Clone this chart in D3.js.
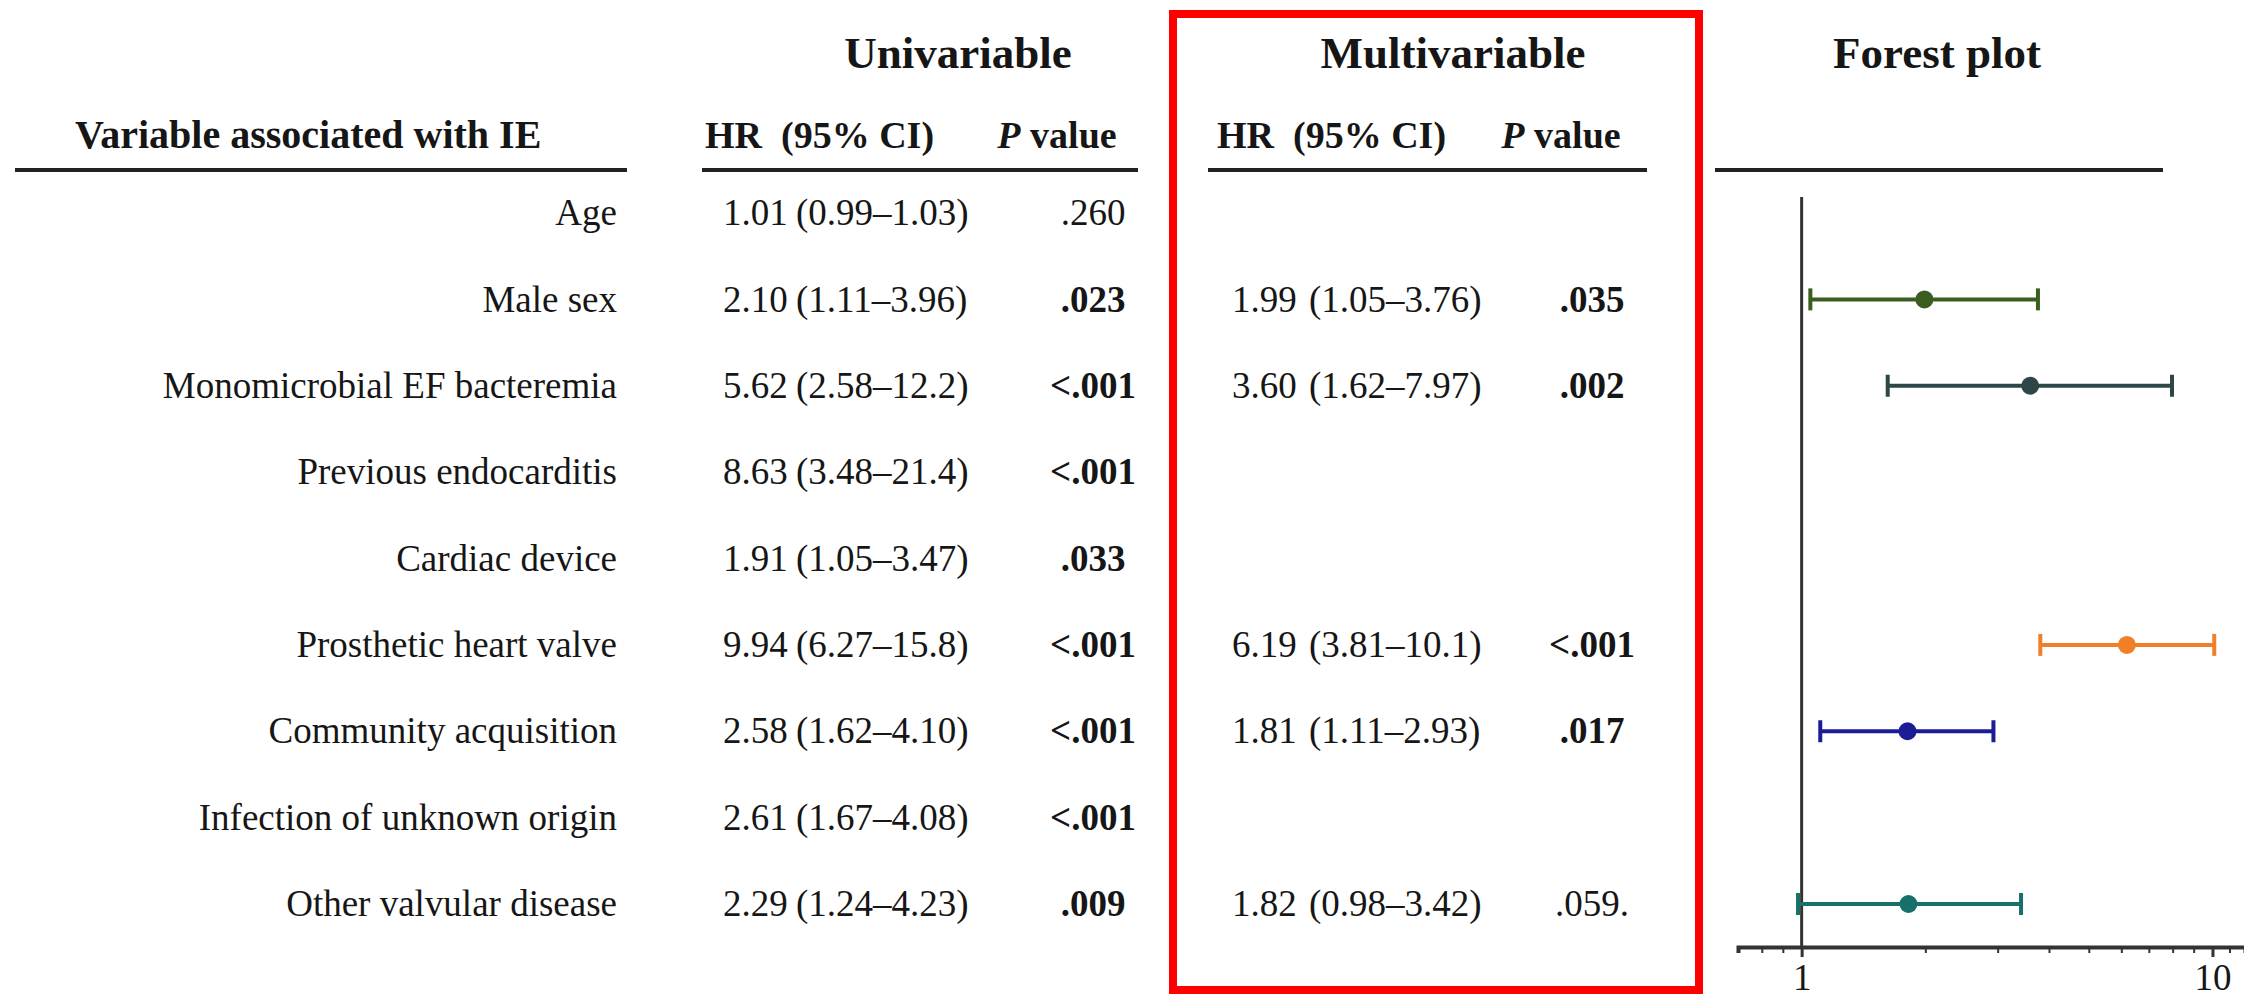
<!DOCTYPE html>
<html>
<head>
<meta charset="utf-8">
<script src="https://cdn.jsdelivr.net/npm/d3@7"></script>
<style>
  body { margin: 0; background: #fff; }
  text { font-family: "Liberation Serif", "Times New Roman", serif; fill: #161616; }
</style>
</head>
<body>
<div id="chart"></div>
<script>
/* Forest plot table: risk factors for IE */

const variables = ["Age", "Male sex", "Monomicrobial EF bacteremia", "Previous endocarditis",
                   "Cardiac device", "Prosthetic heart valve", "Community acquisition",
                   "Infection of unknown origin", "Other valvular disease"];

const uniHR = [1.01, 2.10, 5.62, 8.63, 1.91, 9.94, 2.58, 2.61, 2.29];
const uniLo = [0.99, 1.11, 2.58, 3.48, 1.05, 6.27, 1.62, 1.67, 1.24];
const uniHi = [1.03, 3.96, 12.2, 21.4, 3.47, 15.8, 4.10, 4.08, 4.23];
const uniP  = [".260", ".023", "<.001", "<.001", ".033", "<.001", "<.001", "<.001", ".009"];

const multiHR = [null, 1.99, 3.60, null, null, 6.19, 1.81, null, 1.82];
const multiLo = [null, 1.05, 1.62, null, null, 3.81, 1.11, null, 0.98];
const multiHi = [null, 3.76, 7.97, null, null, 10.1, 2.93, null, 3.42];
const multiP  = ["", ".035", ".002", "", "", "<.001", ".017", "", ".059."];

const barColors = ["#3b5d20", "#2d4749", "#f07f28", "#1c1c94", "#18706a"];

const minorTicks = [0.7, 0.8, 0.9, 2, 3, 4, 5, 6, 7, 8, 9, 11, 12];
const majorTicks = [1, 10];

const width = 2244,
      height = 997;

const svg = d3.select("#chart")
    .append("svg")
    .attr("width", width)
    .attr("height", height)
    .attr("viewBox", [0, 0, width, height]);

svg.append("rect").attr("width", width).attr("height", height).attr("fill", "#fff");

const y = d3.scalePoint()
    .domain(variables)
    .range([213, 904]);

const x = d3.scaleLog()
    .domain([0.7, 12])
    .range([1738, 2245]);

const fmt = v => v < 10 ? v.toFixed(2) : v.toFixed(1);
const isSig = p => parseFloat(p.replace("<", "")) < 0.05;

// column titles
const titles = [["Univariable", 958], ["Multivariable", 1453], ["Forest plot", 1937]];
svg.selectAll(".title")
    .data(titles)
    .join("text")
    .attr("class", "title")
    .attr("x", d => d[0] === "" ? 0 : d[1])
    .attr("y", 68)
    .attr("text-anchor", "middle")
    .attr("font-weight", "bold")
    .attr("font-size", 45)
    .text(d => d[0]);

// sub headers
svg.append("text")
    .attr("x", 75).attr("y", 148)
    .attr("font-weight", "bold").attr("font-size", 40)
    .text("Variable associated with IE");

for (const [hx, px] of [[705, 1057], [1217, 1561]]) {
    svg.append("text")
        .attr("x", hx).attr("y", 148)
        .attr("font-weight", "bold").attr("font-size", 38)
        .attr("xml:space", "preserve")
        .style("white-space", "pre")
        .text("HR  (95% CI)");
    const pv = svg.append("text")
        .attr("x", px).attr("y", 148)
        .attr("text-anchor", "middle")
        .attr("font-weight", "bold").attr("font-size", 38);
    pv.append("tspan").attr("font-style", "italic").text("P");
    pv.append("tspan").text(" value");
}

// header rules
const rules = [[15, 627], [702, 1138], [1208, 1647], [1715, 2163]];
svg.selectAll(".rule")
    .data(rules)
    .join("line")
    .attr("class", "rule")
    .attr("x1", d => d[0]).attr("x2", d => d[1])
    .attr("y1", 170).attr("y2", 170)
    .attr("stroke", "#222")
    .attr("stroke-width", 4);

// table rows
const rows = svg.append("g")
    .attr("font-size", 37);

rows.selectAll(".label")
    .data(variables)
    .join("text")
    .attr("x", 617)
    .attr("y", d => y(d))
    .attr("dy", "0.33em")
    .attr("text-anchor", "end")
    .text(d => d);

function tableColumn(hr, lo, hi, p, hrX, ciX, pX) {
    const idx = variables.map((v, i) => i).filter(i => hr[i] != null);
    rows.selectAll(null)
        .data(idx)
        .join("text")
        .attr("x", hrX)
        .attr("y", i => y(variables[i]))
        .attr("dy", "0.33em")
        .text(i => fmt(hr[i]));
    rows.selectAll(null)
        .data(idx)
        .join("text")
        .attr("x", ciX)
        .attr("y", i => y(variables[i]))
        .attr("dy", "0.33em")
        .text(i => `(${fmt(lo[i])}\u2013${fmt(hi[i])})`);
    rows.selectAll(null)
        .data(idx)
        .join("text")
        .attr("x", pX)
        .attr("y", i => y(variables[i]))
        .attr("dy", "0.33em")
        .attr("text-anchor", "middle")
        .attr("font-weight", i => isSig(p[i]) ? "bold" : "normal")
        .text(i => p[i]);
}

tableColumn(uniHR, uniLo, uniHi, uniP, 723, 796, 1093);
tableColumn(multiHR, multiLo, multiHi, multiP, 1232, 1309, 1592);

// red box around multivariable
svg.append("rect")
    .attr("x", 1173).attr("y", 14)
    .attr("width", 526).attr("height", 976)
    .attr("fill", "none")
    .attr("stroke", "#ff0000")
    .attr("stroke-width", 8);

// forest plot
const axisY = 947;

const minorAxis = svg.append("g")
    .attr("transform", `translate(0,${axisY})`)
    .call(d3.axisBottom(x).tickValues(minorTicks).tickSize(6).tickFormat(""));
minorAxis.select(".domain").attr("stroke", "#333").attr("stroke-width", 4);
minorAxis.selectAll(".tick line").attr("stroke", "#333").attr("stroke-width", 2);

const majorAxis = svg.append("g")
    .attr("transform", `translate(0,${axisY})`)
    .call(d3.axisBottom(x).tickValues(majorTicks).tickSize(10).tickPadding(7).tickFormat(d3.format("d")));
majorAxis.select(".domain").remove();
majorAxis.selectAll(".tick line").attr("stroke", "#333").attr("stroke-width", 3);
majorAxis.selectAll(".tick text")
    .attr("font-family", "Liberation Serif, Times New Roman, serif")
    .attr("font-size", 37)
    .attr("fill", "#161616");

svg.append("line")
    .attr("x1", x(1)).attr("x2", x(1))
    .attr("y1", 197).attr("y2", axisY)
    .attr("stroke", "#333")
    .attr("stroke-width", 3);

const forestIdx = variables.map((v, i) => i).filter(i => multiHR[i] != null);

const bars = svg.append("g")
    .selectAll("g")
    .data(forestIdx)
    .join("g")
    .attr("stroke", (i, k) => barColors[k])
    .attr("fill", (i, k) => barColors[k]);

bars.append("line")
    .attr("x1", i => x(multiLo[i])).attr("x2", i => x(multiHi[i]))
    .attr("y1", i => y(variables[i])).attr("y2", i => y(variables[i]))
    .attr("stroke-width", 4);

bars.append("line")
    .attr("x1", i => x(multiLo[i])).attr("x2", i => x(multiLo[i]))
    .attr("y1", i => y(variables[i]) - 11).attr("y2", i => y(variables[i]) + 11)
    .attr("stroke-width", 4);

bars.append("line")
    .attr("x1", i => x(multiHi[i])).attr("x2", i => x(multiHi[i]))
    .attr("y1", i => y(variables[i]) - 11).attr("y2", i => y(variables[i]) + 11)
    .attr("stroke-width", 4);

bars.append("circle")
    .attr("cx", i => x(multiHR[i]))
    .attr("cy", i => y(variables[i]))
    .attr("r", 9)
    .attr("stroke", "none");
</script>
</body>
</html>
